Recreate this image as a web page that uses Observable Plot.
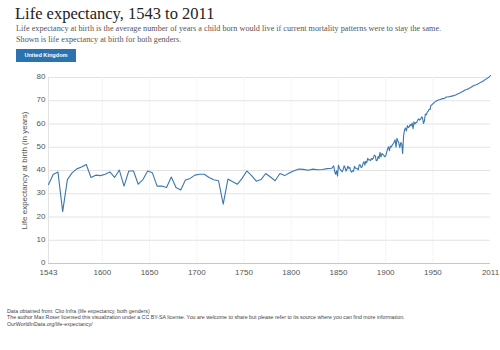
<!DOCTYPE html>
<html>
<head>
<meta charset="utf-8">
<script src="https://cdn.jsdelivr.net/npm/d3@7"></script>
<script src="https://cdn.jsdelivr.net/npm/@observablehq/plot@0.6"></script>
<style>
  html, body { margin: 0; padding: 0; background: #fff; width: 500px; height: 350px; overflow: hidden; }
  #wrap { position: relative; width: 500px; height: 350px; }
  .title { position: absolute; left: 15px; top: 4px; font-family: "Liberation Serif", serif; font-size: 16.5px; color: #222; white-space: nowrap; }
  .sub { position: absolute; left: 16px; font-family: "Liberation Serif", serif; font-size: 8.2px; color: #555; white-space: nowrap; }
  .btn { position: absolute; left: 16px; top: 49px; width: 60px; height: 13px; background: #2a72b0; color: #fff; font-family: "Liberation Sans", Arial, sans-serif; font-weight: bold; font-size: 5.6px; line-height: 13px; text-align: center; }
  #chart { position: absolute; left: 0; top: 60px; }
  .foot { position: absolute; left: 7px; font-family: "Liberation Sans", Arial, sans-serif; font-size: 5.3px; color: #444; white-space: nowrap; }
</style>
</head>
<body>
<div id="wrap">
  <div class="title">Life expectancy, 1543 to 2011</div>
  <div class="sub" style="top:24px">Life expectancy at birth is the average number of years a child born would live if current mortality patterns were to stay the same.</div>
  <div class="sub" style="top:35px">Shown is life expectancy at birth for both genders.</div>
  <div class="btn">United Kingdom</div>
  <div id="chart"></div>
  <div class="foot" style="top:308px">Data obtained from: Clio Infra (life expectancy, both genders)</div>
  <div class="foot" style="top:314px">The author Max Roser licensed this visualization under a CC BY-SA license. You are welcome to share but please refer to its source where you can find more information.</div>
  <div class="foot" style="top:321px">OurWorldInData.org/life-expectancy/</div>
</div>
<script>
// Quinquennial estimates 1543-1843
const yearsEarly = [1543,1548,1553,1558,1563,1568,1573,1578,1583,1588,1593,1598,1603,1608,1613,1618,1623,1628,1633,1638,1643,1648,1653,1658,1663,1668,1673,1678,1683,1688,1693,1698,1703,1708,1713,1718,1723,1728,1733,1738,1743,1748,1753,1758,1763,1768,1773,1778,1783,1788,1793,1798,1803,1808,1813,1818,1823,1828,1833,1838,1843];
const lifeEarly = [34.0,38.3,39.4,22.3,36.1,39.0,40.7,41.5,42.6,37.0,38.0,37.8,38.4,39.4,37.0,40.2,33.3,39.8,39.8,34.1,36.1,39.8,39.0,33.3,33.3,32.7,37.2,32.7,31.6,35.9,36.6,38.0,38.4,38.4,37.0,36.0,35.6,25.5,36.3,35.2,34.1,36.6,39.8,37.8,35.4,36.1,38.7,37.2,35.6,38.7,37.8,38.9,39.9,40.6,40.5,40.1,40.6,40.3,40.4,40.8,41.0];

// Annual estimates 1845-1950
const yearsAnnual = [1845,1846,1847,1848,1849,1850,1851,1852,1853,1854,1855,1856,1857,1858,1859,1860,1861,1862,1863,1864,1865,1866,1867,1868,1869,1870,1871,1872,1873,1874,1875,1876,1877,1878,1879,1880,1881,1882,1883,1884,1885,1886,1887,1888,1889,1890,1891,1892,1893,1894,1895,1896,1897,1898,1899,1900,1901,1902,1903,1904,1905,1906,1907,1908,1909,1910,1911,1912,1913,1914,1915,1916,1917,1918,1919,1920,1921,1922,1923,1924,1925,1926,1927,1928,1929,1930,1931,1932,1933,1934,1935,1936,1937,1938,1939,1940,1941,1942,1943,1944,1945,1946,1947,1948,1949,1950];
const lifeAnnual = [42.0,39.6,38.4,39.9,37.6,42.3,41.0,40.3,40.0,39.4,40.5,42.0,41.2,39.7,40.5,41.9,40.9,41.3,39.8,39.3,39.9,39.7,41.8,41.0,41.0,40.8,40.3,42.4,42.4,41.3,41.5,43.0,43.8,42.3,44.0,43.4,45.2,44.5,44.6,44.3,45.2,44.8,45.4,46.6,46.3,44.2,44.4,46.1,45.2,47.8,45.8,47.3,47.0,46.5,45.9,46.3,47.7,49.3,50.2,48.5,50.5,50.1,51.0,51.5,52.3,53.2,50.0,53.8,52.7,51.8,49.8,52.0,51.5,47.3,55.0,57.5,58.3,57.0,59.3,58.5,58.8,59.8,59.2,60.4,58.0,60.9,60.0,60.6,60.7,61.8,62.2,61.7,62.0,63.0,62.8,60.2,61.3,64.3,64.0,65.0,65.5,66.3,66.2,68.1,68.3,68.7];

// Recent estimates 1952-2011
const yearsRecent = [1952,1954,1956,1958,1960,1962,1964,1966,1968,1970,1972,1974,1976,1978,1980,1982,1984,1986,1988,1990,1992,1994,1996,1998,2000,2002,2004,2006,2008,2010,2011];
const lifeRecent = [69.4,70.0,70.3,70.5,71.0,70.9,71.6,71.6,71.8,72.0,72.2,72.5,72.9,73.2,73.7,74.1,74.6,74.8,75.3,75.7,76.2,76.7,76.9,77.3,77.8,78.2,78.7,79.3,79.7,80.4,80.8];

const xTicks = [1543,1600,1650,1700,1750,1800,1850,1900,1950,2011];
const yTicks = [0,10,20,30,40,50,60,70,80];

const data = [
  ...yearsEarly.map((y, i) => ({year: y, life: lifeEarly[i]})),
  ...yearsAnnual.map((y, i) => ({year: y, life: lifeAnnual[i]})),
  ...yearsRecent.map((y, i) => ({year: y, life: lifeRecent[i]}))
];

const chart = Plot.plot({
  width: 500,
  height: 225,
  marginLeft: 48,
  marginRight: 10,
  marginTop: 17,
  marginBottom: 22,
  style: {fontFamily: "'Liberation Sans', Arial, sans-serif", fontSize: "8px", color: "#555", background: "transparent"},
  x: {domain: [1543, 2011], ticks: xTicks, tickFormat: d => String(d), label: null},
  y: {domain: [0, 80], ticks: yTicks, label: null},
  marks: [
    Plot.gridY(yTicks.filter(d => d > 0), {stroke: "#e3e3e3", strokeOpacity: 1}),
    Plot.gridX(xTicks.slice(1, -1), {stroke: "#ececec", strokeOpacity: 1, strokeDasharray: "1,1"}),
    Plot.axisX(xTicks, {tickSize: 0, tickPadding: 6, tickFormat: d => String(d), label: null, fill: "#555"}),
    Plot.axisY(yTicks, {tickSize: 0, tickPadding: 3, dy: -1, label: "Life expectancy at birth (in years)", labelAnchor: "center", labelArrow: "none", labelOffset: 27, fill: "#555"}),
    Plot.ruleY([0], {stroke: "#c8c8c8"}),
    Plot.ruleX([1543], {stroke: "#e3e3e3"}),
    Plot.line(data, {x: "year", y: "life", stroke: "#3a78ad", strokeWidth: 1.1})
  ]
});
document.getElementById("chart").appendChild(chart);
</script>
</body>
</html>
